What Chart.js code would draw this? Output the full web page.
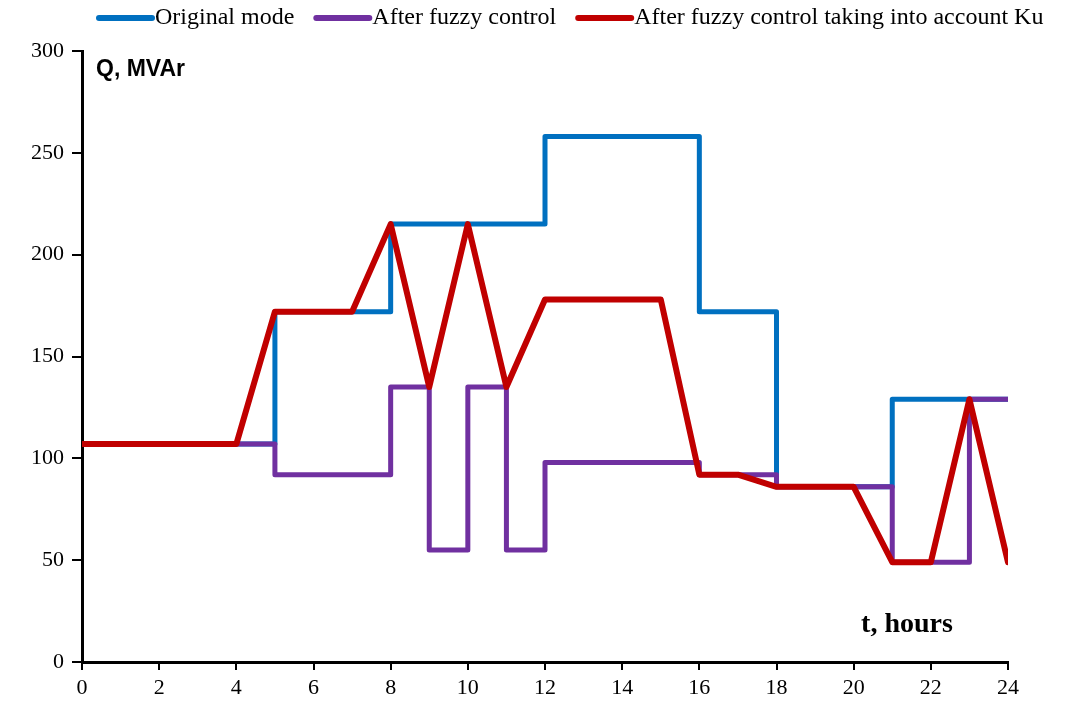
<!DOCTYPE html>
<html>
<head>
<meta charset="utf-8">
<script src="https://cdn.jsdelivr.net/npm/chart.js@4"></script>
<style>
  body { margin: 0; background: #fff; }
  #wrap { width: 1079px; height: 702px; }
</style>
</head>
<body>
<div id="wrap"><canvas id="chart"></canvas></div>
<script>
// hours 0..24, each value holds over the hour that follows it
const hours = [0,1,2,3,4,5,6,7,8,9,10,11,12,13,14,15,16,17,18,19,20,21,22,23,24];
const originalMode = [107,107,107,107,107,172,172,172,215,215,215,215,258,258,258,258,172,172,86,86,86,129,129,129,129];
const afterFuzzy = [107,107,107,107,107,92,92,92,135,55,135,55,98,98,98,98,92,92,86,86,86,49,49,129,129];
const afterFuzzyKu = [107,107,107,107,107,172,172,172,215,135,215,135,178,178,178,178,92,92,86,86,86,49,49,129,49];
const xTicks = [0,2,4,6,8,10,12,14,16,18,20,22,24];
const yTicks = [0,50,100,150,200,250,300];

const serif = '"Liberation Serif", "Times New Roman", serif';

const toXY = vals => hours.map((h, i) => ({ x: h, y: vals[i] }));

// legend at the top, line sample right next to the text
const topLegend = {
    id: 'topLegend',
    afterDraw(chart) {
        const ctx = chart.ctx;
        ctx.save();
        ctx.font = '24px ' + serif;
        ctx.textBaseline = 'middle';
        ctx.textAlign = 'left';
        let x = 99;
        const y = 18;
        chart.data.datasets.forEach(ds => {
            ctx.strokeStyle = ds.borderColor;
            ctx.lineWidth = 6;
            ctx.lineCap = 'round';
            ctx.beginPath();
            ctx.moveTo(x, y);
            ctx.lineTo(x + 53, y);
            ctx.stroke();
            x += 56;
            ctx.fillStyle = '#000';
            ctx.fillText(ds.label, x, y);
            x += ctx.measureText(ds.label).width + 22;
        });
        ctx.restore();
    }
};

// axis titles drawn inside the plot area
const axisTitles = {
    id: 'axisTitles',
    afterDraw(chart) {
        const ctx = chart.ctx;
        const a = chart.chartArea;
        ctx.save();
        ctx.fillStyle = '#000';
        ctx.textBaseline = 'middle';
        ctx.textAlign = 'left';
        ctx.font = 'bold 23px "Liberation Sans", Arial, sans-serif';
        ctx.fillText('Q, MVAr', a.left + 14, a.top + 19);
        ctx.textAlign = 'center';
        ctx.font = 'bold 28px ' + serif;
        ctx.fillText('t, hours', 907, 625);
        ctx.restore();
    }
};

new Chart(document.getElementById('chart').getContext('2d'), {
    type: 'line',
    data: {
        datasets: [
            {
                label: 'Original mode',
                data: toXY(originalMode),
                borderColor: '#0070c0',
                borderWidth: 5,
                stepped: 'before',
                pointRadius: 0,
                borderJoinStyle: 'round',
                borderCapStyle: 'round',
                order: 3
            },
            {
                label: 'After fuzzy control',
                data: toXY(afterFuzzy),
                borderColor: '#7030a0',
                borderWidth: 5,
                stepped: 'before',
                pointRadius: 0,
                borderJoinStyle: 'round',
                borderCapStyle: 'round',
                order: 2
            },
            {
                label: 'After fuzzy control taking into account Ku',
                data: toXY(afterFuzzyKu),
                borderColor: '#c00000',
                borderWidth: 6,
                pointRadius: 0,
                tension: 0,
                borderJoinStyle: 'round',
                borderCapStyle: 'round',
                order: 1
            }
        ]
    },
    options: {
        responsive: true,
        maintainAspectRatio: false,
        animation: false,
        layout: { padding: { top: 51, right: 71, bottom: 0, left: 0 } },
        plugins: {
            legend: { display: false },
            tooltip: { enabled: false }
        },
        scales: {
            x: {
                type: 'linear',
                min: 0,
                max: 24,
                afterBuildTicks: axis => { axis.ticks = xTicks.map(v => ({ value: v })); },
                afterFit: axis => { axis.height = 40; },
                border: { color: '#000', width: 3 },
                grid: { drawOnChartArea: false, color: '#000', lineWidth: 2, tickLength: 8 },
                ticks: {
                    color: '#000',
                    padding: 5,
                    maxRotation: 0,
                    font: { family: serif, size: 22 }
                }
            },
            y: {
                min: 0,
                max: 300,
                afterBuildTicks: axis => { axis.ticks = yTicks.map(v => ({ value: v })); },
                afterFit: axis => { axis.width = 82; },
                border: { color: '#000', width: 3 },
                grid: { drawOnChartArea: false, color: '#000', lineWidth: 2, tickLength: 10 },
                ticks: {
                    color: '#000',
                    padding: 8,
                    font: { family: serif, size: 22 }
                }
            }
        }
    },
    plugins: [topLegend, axisTitles]
});
</script>
</body>
</html>
